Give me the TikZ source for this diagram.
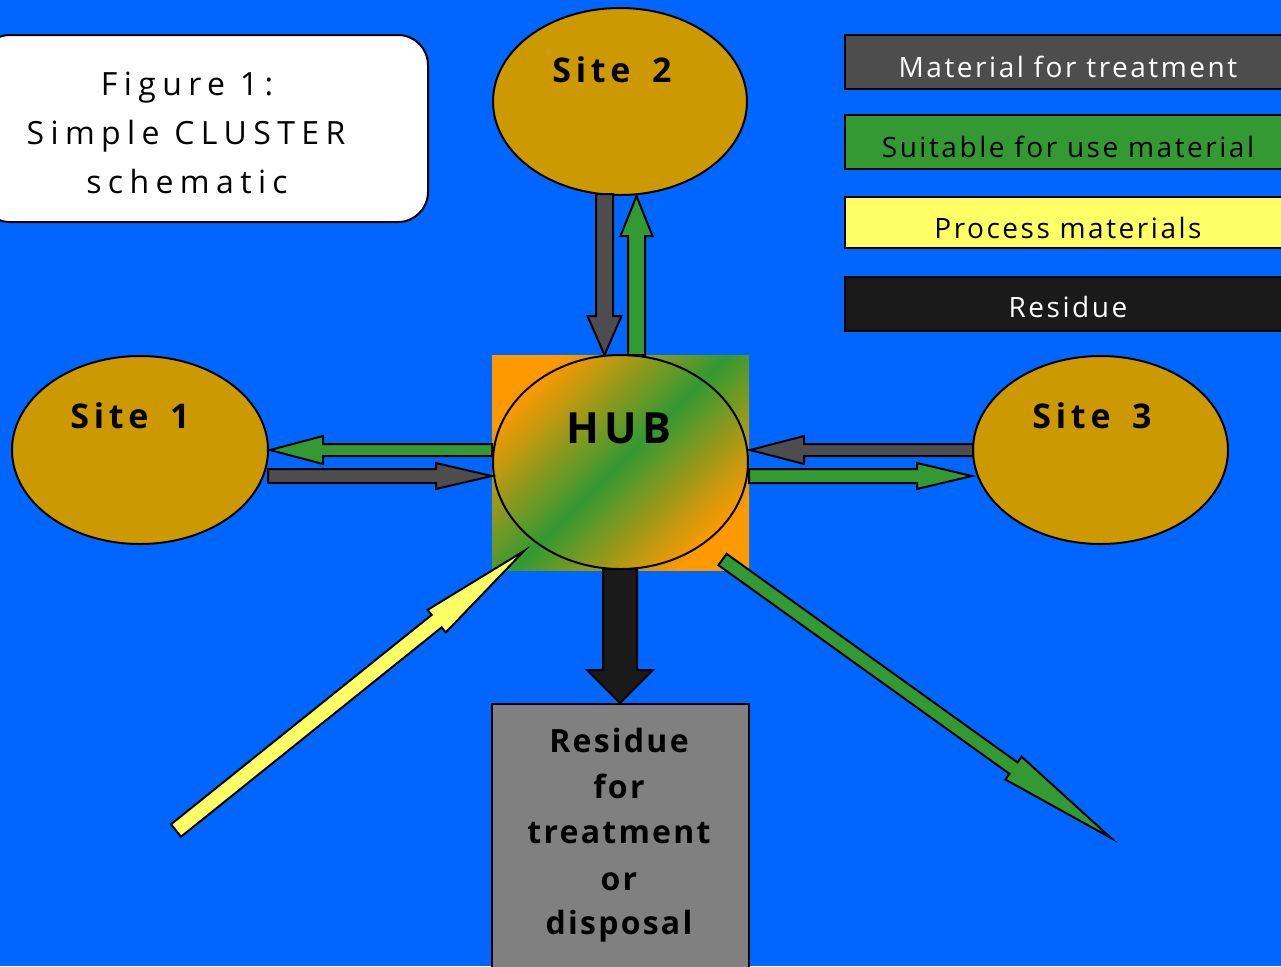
\documentclass[tikz,border=0pt]{standalone}
\usepackage{fontspec}
\setmainfont{Open Sans}[LetterSpace=4]
\newfontfamily\hubfont{Open Sans}[LetterSpace=12]
\newfontfamily\sitefont{Open Sans}[LetterSpace=14]
\newfontfamily\resfont{Open Sans}[LetterSpace=7]
\newfontfamily\legfont{Open Sans}[LetterSpace=9]
\newfontfamily\ttlfont{Open Sans}[LetterSpace=20]
\usetikzlibrary{shapes.geometric,calc}
\definecolor{bgC}{RGB}{0,102,255}
\definecolor{siteC}{RGB}{204,153,0}
\definecolor{grayC}{RGB}{77,77,77}
\definecolor{greenC}{RGB}{51,153,51}
\definecolor{yellowC}{RGB}{255,255,102}
\definecolor{blackC}{RGB}{26,26,26}
\definecolor{boxC}{RGB}{128,128,128}
\definecolor{orangeC}{RGB}{255,153,0}
\newcommand{\blkarrow}[6]{%
  \coordinate (nk) at ($(#3)!#6!(#2)$);
  \filldraw[fill=#1, draw=black, line width=1pt, line join=miter]
    ($(#2)!#4!90:(#3)$) -- ($(nk)!#4!90:(#3)$) -- ($(nk)!#5!90:(#3)$) -- (#3)
    -- ($(nk)!#5!-90:(#3)$) -- ($(nk)!#4!-90:(#3)$) -- ($(#2)!#4!-90:(#3)$) -- cycle;
}
\begin{document}
\begin{tikzpicture}[x=0.5pt,y=-0.5pt,
  outl/.style={draw=black, line width=1pt},
  site/.style={ellipse, outl, fill=siteC, inner sep=0pt},
  sitelbl/.style={anchor=base, inner sep=0pt, font=\sitefont\bfseries\fontsize{17}{20}\selectfont},
  legbox/.style={rectangle, outl, inner sep=0pt, minimum width=222.5pt, minimum height=27pt},
  legtxt/.style={anchor=base, inner sep=0pt, font=\legfont\fontsize{14}{16}\selectfont},
  ttltxt/.style={anchor=base, inner sep=0pt, font=\ttlfont\fontsize{16}{18}\selectfont},
  restxt/.style={anchor=base, inner sep=0pt, font=\resfont\bfseries\fontsize{16}{20}\selectfont},
  hubshade/.style={left color=orangeC, right color=orangeC, middle color=greenC, shading angle=45}
]
\useasboundingbox (0,0) rectangle (1281,966);
\clip (0,0) rectangle (1281,966);
\fill[bgC] (0,0) rectangle (1281,966);

% title box
\node[outl, fill=white, rounded corners=15pt, minimum width=224pt, minimum height=93.5pt, inner sep=0pt] (title) at (204,128.5) {};
\node[ttltxt] (t1) at (187,95) {Figure 1:};
\node[ttltxt] (t2) at (186,144) {Simple CLUSTER};
\node[ttltxt] (t3) at (187,193) {schematic};

% legend
\node[legbox, fill=grayC] (lg1) at (1067.5,62) {};
\node[legtxt, text=white] (lt1) at (1068,77) {Material for treatment};
\node[legbox, fill=greenC] (lg2) at (1067.5,141.5) {};
\node[legtxt] (lt2) at (1068,157) {Suitable for use material};
\node[legbox, fill=yellowC, minimum height=25.5pt] (lg3) at (1067.5,222.5) {};
\node[legtxt] (lt3) at (1068,238) {Process materials};
\node[legbox, fill=blackC] (lg4) at (1067.5,303.5) {};
\node[legtxt, text=white] (lt4) at (1068,317) {Residue};

% sites
\node[site, minimum width=127pt, minimum height=93.5pt] (s2) at (620,101.5) {};
\node[sitelbl] (s2l) at (612,82) {Site \hspace{4pt}2};
\node[site, minimum width=128pt, minimum height=94pt] (s1) at (140,450) {};
\node[sitelbl] (s1l) at (130,428) {Site \hspace{4pt}1};
\node[site, minimum width=127.5pt, minimum height=94pt] (s3) at (1100.5,450) {};
\node[sitelbl] (s3l) at (1092,428) {Site \hspace{4pt}3};

% hub
\node[rectangle, hubshade, minimum width=128.5pt, minimum height=107.5pt, inner sep=0pt] (hubsq) at (620.5,462.5) {};
\node[ellipse, outl, hubshade, minimum width=127.5pt, minimum height=107pt, inner sep=0pt] (hub) at (620.5,462) {};
\node[anchor=base, inner sep=0pt, font=\hubfont\bfseries\fontsize{21.5}{24}\selectfont] (hubl) at (619,443) {HUB};

% residue box
\node[rectangle, outl, fill=boxC, minimum width=128.5pt, minimum height=140pt, inner sep=0pt, anchor=north] (res) at (620.5,703) {};
\node[restxt] (r1) at (619,752) {Residue};
\node[restxt] (r2) at (619,798) {for};
\node[restxt] (r3) at (619,843) {treatment};
\node[restxt] (r4) at (619,890) {or};
\node[restxt] (r5) at (619,934) {disposal};

% arrow end points
\coordinate (a1s) at (604.5,194);  \coordinate (a1e) at (604.5,355);
\coordinate (a2s) at (636.5,355);  \coordinate (a2e) at (636.5,196);
\coordinate (a3s) at (492,450);    \coordinate (a3e) at (270,450);
\coordinate (a4s) at (268,476);    \coordinate (a4e) at (492,476);
\coordinate (a5s) at (973,450);    \coordinate (a5e) at (750,450);
\coordinate (a6s) at (749,476);    \coordinate (a6e) at (972,476);
\coordinate (a7s) at (620,569);    \coordinate (a7e) at (620,703);
\coordinate (a8s) at (176,830.5);  \coordinate (a8e) at (524,551);
\coordinate (a9s) at (722.5,559.5);\coordinate (a9e) at (1111,838);

\blkarrow{grayC}{a1s}{a1e}{4.25pt}{8.5pt}{19.5pt}
\blkarrow{greenC}{a2s}{a2e}{4.25pt}{8pt}{20pt}
\blkarrow{greenC}{a3s}{a3e}{3pt}{7pt}{26.5pt}
\blkarrow{grayC}{a4s}{a4e}{3.5pt}{6.5pt}{28pt}
\blkarrow{grayC}{a5s}{a5e}{3pt}{7pt}{27pt}
\blkarrow{greenC}{a6s}{a6e}{3.5pt}{6.5pt}{27.5pt}
\blkarrow{blackC}{a7s}{a7e}{8.5pt}{16.5pt}{16.5pt}
\blkarrow{yellowC}{a8s}{a8e}{4pt}{7.25pt}{56pt}
\blkarrow{greenC}{a9s}{a9e}{3.5pt}{7pt}{60pt}
\end{tikzpicture}
\end{document}
